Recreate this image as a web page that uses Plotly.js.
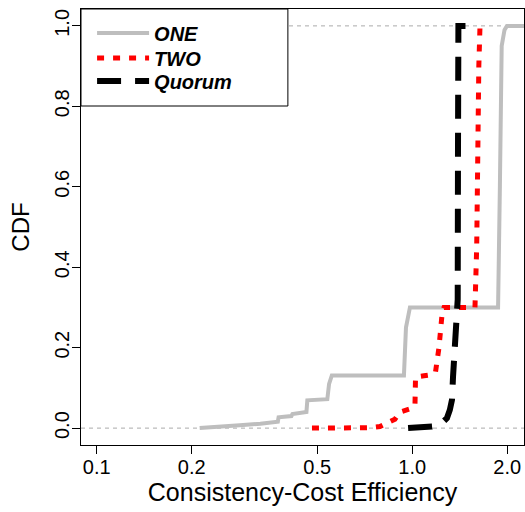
<!DOCTYPE html>
<html>
<head>
<meta charset="utf-8">
<script src="https://cdn.plot.ly/plotly-3.0.1.min.js"></script>
<style>html,body{margin:0;padding:0;background:#fff;}#chart{width:525px;height:512px;}</style>
</head>
<body>
<div id="chart"></div>
<script>
var seriesNames = ["ONE", "TWO", "Quorum"];

var oneX = [0.212, 0.240, 0.284, 0.330, 0.375, 0.377, 0.414, 0.417, 0.462, 0.465, 0.538, 0.545, 0.556, 0.941, 0.955, 0.983, 1.870, 1.895, 1.920, 1.960, 1.995, 2.300];
var oneY = [0.000, 0.002, 0.007, 0.011, 0.016, 0.027, 0.030, 0.035, 0.040, 0.069, 0.072, 0.110, 0.131, 0.131, 0.250, 0.300, 0.300, 0.600, 0.950, 0.990, 1.000, 1.000];

var twoX = [0.481, 0.600, 0.735, 0.790, 0.850, 0.881, 0.914, 0.960, 1.005, 1.020, 1.024, 1.089, 1.160, 1.185, 1.215, 1.245, 1.260, 1.580, 1.600, 1.625, 1.639, 1.700];
var twoY = [0.000, 0.000, 0.001, 0.004, 0.016, 0.022, 0.040, 0.045, 0.050, 0.060, 0.127, 0.130, 0.133, 0.140, 0.200, 0.290, 0.300, 0.300, 0.450, 0.900, 1.000, 1.000];

var quorumX = [0.970, 1.050, 1.121, 1.155, 1.224, 1.288, 1.315, 1.336, 1.346, 1.366, 1.383, 1.393, 1.396, 1.400, 1.420, 1.523];
var quorumY = [0.000, 0.001, 0.003, 0.004, 0.008, 0.025, 0.045, 0.070, 0.127, 0.190, 0.275, 0.320, 0.700, 1.000, 1.000, 1.000];

var xTickVals = [0.1, 0.2, 0.5, 1, 2];
var xTickText = ["0.1", "0.2", "0.5", "1.0", "2.0"];
var yTickVals = [0, 0.2, 0.4, 0.6, 0.8, 1.0];
var yTickText = ["0.0", "0.2", "0.4", "0.6", "0.8", "1.0"];
var refLevels = [0, 1];

// ---- chart ----
var FONT = "Liberation Sans, Arial, Helvetica, sans-serif";

var traces = [
  {x: oneX, y: oneY, name: seriesNames[0], mode: "lines", type: "scatter", legend: "legend",
   line: {color: "#bebebe", width: 4}},
  {x: twoX, y: twoY, name: seriesNames[1], mode: "lines", type: "scatter", legend: "legend2",
   line: {color: "#ff0000", width: 5, dash: "7px,9px"}},
  {x: quorumX, y: quorumY, name: seriesNames[2], mode: "lines", type: "scatter", legend: "legend3",
   line: {color: "#000000", width: 6, dash: "24px,14px"}}
];

var shapes = refLevels.map(function (v) {
  return {type: "line", xref: "paper", yref: "y", x0: 0, x1: 1, y0: v, y1: v,
          line: {color: "#aaaaaa", width: 1, dash: "4px,4px"}, layer: "below"};
});
shapes.push({type: "rect", xref: "paper", yref: "paper", x0: 0, x1: 0.467, y0: 0.7775, y1: 1,
             line: {color: "#000000", width: 1}, fillcolor: "#ffffff", layer: "below"});

function legendAt(y) {
  return {x: 0.025, y: y, xanchor: "left", yanchor: "top",
          bgcolor: "rgba(0,0,0,0)", borderwidth: 0,
          font: {family: FONT, size: 20, weight: "bold", style: "italic", color: "#000000"},
          itemwidth: 52};
}

var layout = {
  width: 525, height: 512,
  margin: {l: 81, r: 1, t: 9, b: 67, pad: 0},
  paper_bgcolor: "#ffffff", plot_bgcolor: "#ffffff",
  font: {family: FONT, color: "#000000"},
  showlegend: true,
  legend: legendAt(0.9897),
  legend2: legendAt(0.9323),
  legend3: legendAt(0.8796),
  xaxis: {
    type: "log", range: [-1.0497, 0.354],
    tickvals: xTickVals, ticktext: xTickText,
    ticks: "outside", ticklen: 8, tickwidth: 1, tickcolor: "#000000",
    tickfont: {family: FONT, size: 20, color: "#000000"}, ticklabelstandoff: -4,
    showline: true, mirror: true, linecolor: "#000000", linewidth: 1,
    showgrid: false, zeroline: false,
    title: {text: "Consistency-Cost Efficiency", font: {family: FONT, size: 25, color: "#000000"}, standoff: 6}
  },
  yaxis: {
    range: [-0.042, 1.042],
    tickvals: yTickVals, ticktext: yTickText, tickangle: -90,
    ticks: "outside", ticklen: 8, tickwidth: 1, tickcolor: "#000000",
    tickfont: {family: FONT, size: 20, color: "#000000"}, ticklabelstandoff: -5,
    showline: true, mirror: true, linecolor: "#000000", linewidth: 1,
    showgrid: false, zeroline: false,
    title: {text: "CDF", font: {family: FONT, size: 24, color: "#000000"}, standoff: 14}
  },
  shapes: shapes
};

Plotly.newPlot("chart", traces, layout, {displayModeBar: false, staticPlot: true});
</script>
</body>
</html>
